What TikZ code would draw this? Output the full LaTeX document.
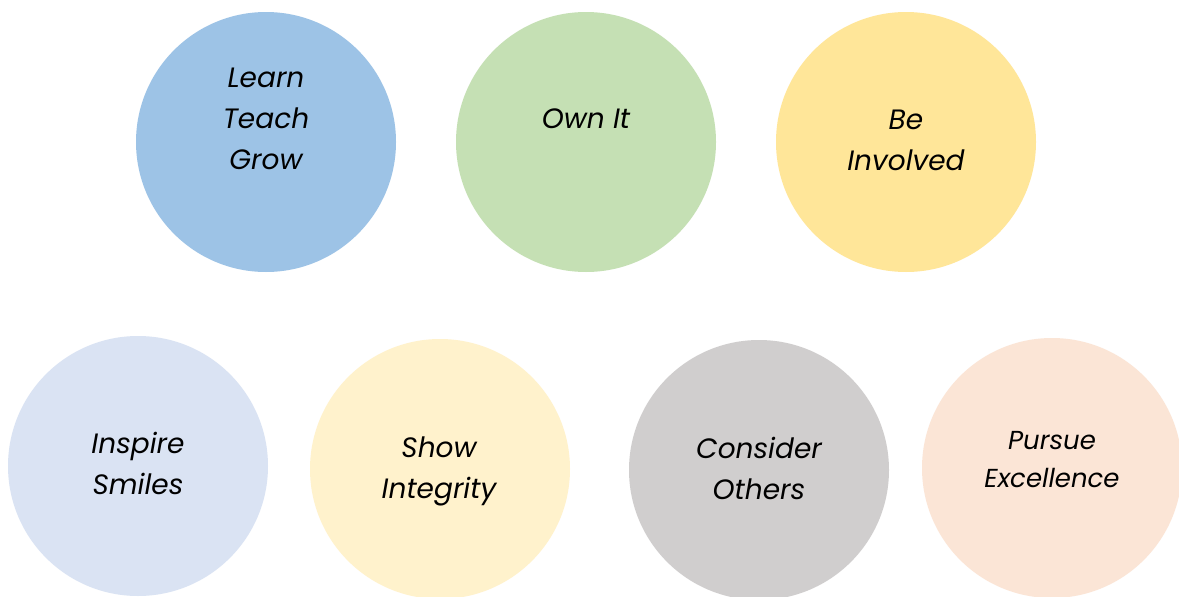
\documentclass[tikz,border=0pt]{standalone}
\usepackage{fontspec}
\setmainfont{Poppins}
\definecolor{cblue}{HTML}{9DC3E6}
\definecolor{cgreen}{HTML}{C5E0B4}
\definecolor{cyellow}{HTML}{FFE699}
\definecolor{clblue}{HTML}{DAE3F3}
\definecolor{ccream}{HTML}{FFF2CC}
\definecolor{cgray}{HTML}{D0CECE}
\definecolor{cpeach}{HTML}{FBE5D6}
\tikzset{
  disc/.style={circle, minimum size=260pt, inner sep=0pt, draw=none, fill=#1},
  lbl/.style={align=center, font=\fontsize{28}{41}\selectfont\itshape, text=black, inner sep=0pt},
  lblsmall/.style={align=center, font=\fontsize{26}{38}\selectfont\itshape, text=black, inner sep=0pt}
}
\begin{document}
\begin{tikzpicture}[x=1pt,y=-1pt]
\useasboundingbox (0,0) rectangle (1179,597);
\fill[white] (0,0) rectangle (1179,597);
\begin{scope}
\clip (0,0) rectangle (1179,597);
\node[disc=cblue]   (c1) at (266,142) {};
\node[disc=cgreen]  (c2) at (586,142) {};
\node[disc=cyellow] (c3) at (906,142) {};
\node[disc=clblue]  (c4) at (138,466) {};
\node[disc=ccream]  (c5) at (440,469) {};
\node[disc=cgray]   (c6) at (759,470) {};
\node[disc=cpeach]  (c7) at (1052,468) {};
\end{scope}
\node[lbl] (t1) at (266,119) {Learn\\Teach\\Grow};
\node[lbl] (t2) at (586,119) {Own It};
\node[lbl] (t3) at (906,140) {Be\\Involved};
\node[lbl] (t4) at (138,463) {Inspire\\Smiles};
\node[lbl] (t5) at (439,471) {Show\\Integrity};
\node[lbl] (t6) at (759,468) {Consider\\Others};
\node[lblsmall] (t7) at (1052,460) {Pursue\\Excellence};
\end{tikzpicture}
\end{document}
